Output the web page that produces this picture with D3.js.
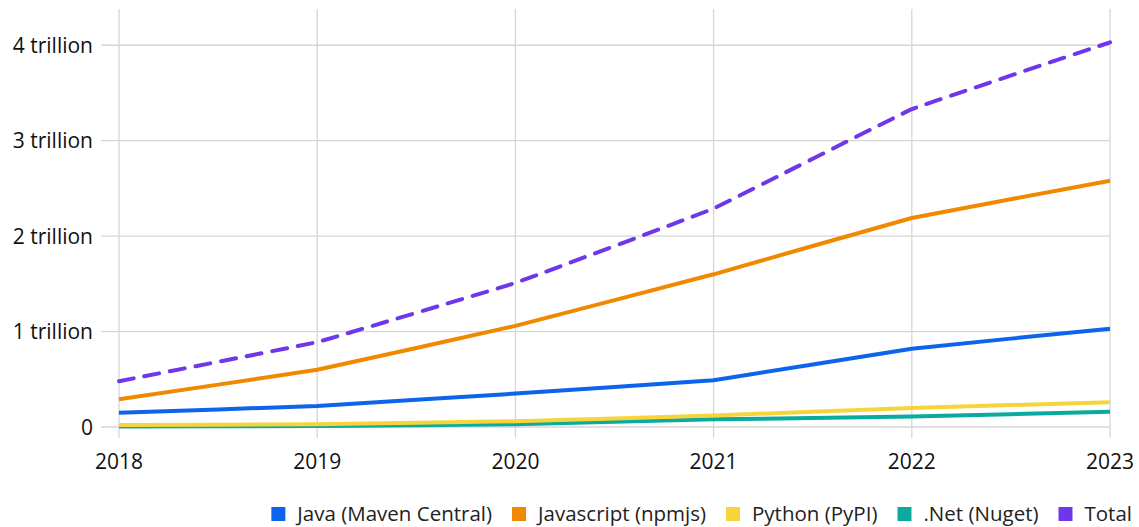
<!DOCTYPE html>
<html><head><meta charset="utf-8">
<script src="https://cdn.jsdelivr.net/npm/d3@7"></script>
<style>body{margin:0;background:#fff;font-family:"Open Sans",Lato,sans-serif}</style>
</head><body><svg id="c" width="1139" height="527"></svg>
<script>
const years = [2018, 2019, 2020, 2021, 2022, 2023];
const java = [0.15, 0.22, 0.35, 0.49, 0.82, 1.03];
const javascript = [0.29, 0.60, 1.06, 1.60, 2.19, 2.58];
const python = [0.02, 0.03, 0.06, 0.12, 0.20, 0.26];
const dotnet = [0.005, 0.01, 0.03, 0.08, 0.11, 0.16];
const total = [0.48, 0.89, 1.51, 2.29, 3.33, 4.03];
const yTicks = [0, 1, 2, 3, 4];
const yTickLabels = ["0", "1 trillion", "2 trillion", "3 trillion", "4 trillion"];
const seriesNames = ["Java (Maven Central)", "Javascript (npmjs)", "Python (PyPI)", ".Net (Nuget)", "Total"];
const seriesColors = ["#0d64ec", "#f08800", "#f6d53b", "#0aab9e", "#6e37e9"];

const series = seriesNames.map((n, i) => ({
  name: n, color: seriesColors[i],
  values: [java, javascript, python, dotnet, total][i],
  dash: i === 4 ? "15,11" : null
}));

const svg = d3.select("#c");
const x = d3.scalePoint().domain(years).range([119, 1110]);
const y = d3.scaleLinear().domain([0, 4.38]).range([427, 9]);

svg.append("g").selectAll("line").data(years).join("line")
  .attr("x1", d => x(d)).attr("x2", d => x(d)).attr("y1", 9).attr("y2", 438)
  .attr("stroke", "#d6d6d6").attr("stroke-width", 1.3);
svg.append("g").selectAll("line").data(yTicks).join("line")
  .attr("x1", 101).attr("x2", 1110).attr("y1", d => y(d)).attr("y2", d => y(d))
  .attr("stroke", "#d6d6d6").attr("stroke-width", 1.3);

svg.append("g").selectAll("text").data(yTicks).join("text")
  .attr("x", 93).attr("y", d => y(d)).attr("dy", "0.36em")
  .attr("text-anchor", "end").attr("font-size", 21).attr("fill", "#111")
  .text((d, i) => yTickLabels[i]);
svg.append("g").selectAll("text").data(years).join("text")
  .attr("x", d => x(d)).attr("y", 469)
  .attr("text-anchor", "middle").attr("font-size", 21).attr("fill", "#111")
  .text(d => d);

const line = d3.line().x((d, i) => x(years[i])).y(d => y(d)).curve(d3.curveCardinal.tension(0.85));
const order = [3, 2, 0, 1, 4];
svg.append("g").selectAll("path").data(order.map(i => series[i])).join("path")
  .attr("d", d => line(d.values)).attr("fill", "none")
  .attr("stroke", d => d.color).attr("stroke-width", 4)
  .attr("stroke-dasharray", d => d.dash)
  .attr("stroke-linecap", d => d.dash ? "round" : "butt")
  .attr("stroke-linejoin", "round");

// legend, right-aligned
const lg = svg.append("g").attr("font-size", 20.5).attr("fill", "#222");
const items = series.map(s => {
  const g = lg.append("g");
  g.append("rect").attr("x", 0).attr("y", 507).attr("width", 14).attr("height", 14).attr("fill", s.color);
  const t = g.append("text").attr("x", 26).attr("y", 514).attr("dy", "0.36em").text(s.name);
  return {g, w: 26 + t.node().getComputedTextLength()};
});
const gap = 20;
const totalW = d3.sum(items, d => d.w) + gap * (items.length - 1);
let lx = 1132 - totalW;
items.forEach(it => { it.g.attr("transform", `translate(${lx},0)`); lx += it.w + gap; });
</script></body></html>
